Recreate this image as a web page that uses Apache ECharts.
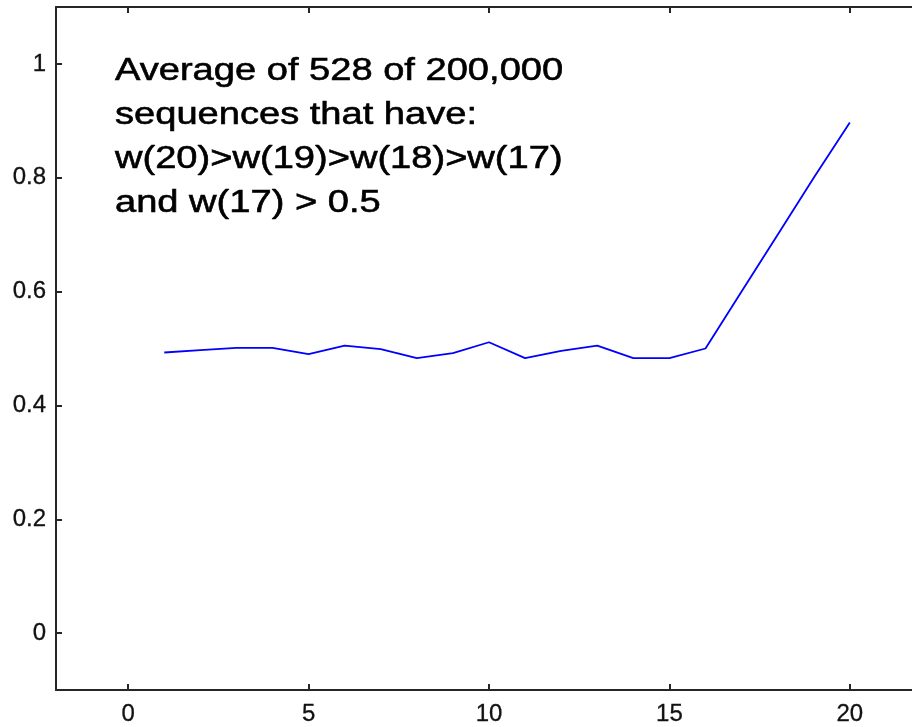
<!DOCTYPE html>
<html>
<head>
<meta charset="utf-8">
<script src="https://cdn.jsdelivr.net/npm/echarts@6/dist/echarts.min.js"></script>
<style>
html,body{margin:0;padding:0;background:#fff;}
#chart{width:912px;height:727px;}
</style>
</head>
<body>
<div id="chart"></div>
<script>
const xValues = [1,2,3,4,5,6,7,8,9,10,11,12,13,14,15,16,17,18,19,20];
const yValues = [0.493,0.497,0.501,0.501,0.490,0.505,0.499,0.483,0.492,0.511,0.483,0.496,0.505,0.483,0.483,0.500,0.600,0.700,0.800,0.897];
const xTicks = [0,5,10,15,20];
const yTicks = [0,0.2,0.4,0.6,0.8,1];
const annotationLines = [
  'Average of 528 of 200,000',
  'sequences that have:',
  'w(20)>w(19)>w(18)>w(17)',
  'and w(17) > 0.5'
];

const chart = echarts.init(document.getElementById('chart'));
const axisCol = '#262626';
const labelFont = {
  fontFamily: 'Liberation Sans, Arial, sans-serif', fontSize: 24, color: '#111',
  textBorderColor: '#111', textBorderWidth: 0.3
};
const option = {
  animation: false,
  backgroundColor: '#fff',
  grid: { left: 56, top: 7, width: 866, height: 683, outerBoundsMode: 'none', containLabel: false },
  xAxis: [{
    type: 'value', min: -2, max: 22, position: 'bottom',
    axisLine: { show: true, onZero: false, lineStyle: { color: axisCol, width: 2 } },
    axisTick: { show: true, inside: true, length: 6, customValues: xTicks, lineStyle: { color: axisCol, width: 2 } },
    axisLabel: Object.assign({ margin: 12, customValues: xTicks, formatter: v => String(v) }, labelFont),
    splitLine: { show: false }
  }, {
    type: 'value', min: -2, max: 22, position: 'top',
    axisLine: { show: true, onZero: false, lineStyle: { color: axisCol, width: 2 } },
    axisTick: { show: true, inside: true, length: 6, customValues: xTicks, lineStyle: { color: axisCol, width: 2 } },
    axisLabel: { show: false },
    splitLine: { show: false }
  }],
  yAxis: [{
    type: 'value', min: -0.1, max: 1.1, position: 'left',
    axisLine: { show: true, onZero: false, lineStyle: { color: axisCol, width: 2 } },
    axisTick: { show: true, inside: true, length: 6, customValues: yTicks, lineStyle: { color: axisCol, width: 2 } },
    axisLabel: Object.assign({ margin: 10, customValues: yTicks, formatter: v => String(v) }, labelFont),
    splitLine: { show: false }
  }],
  series: [{
    type: 'line',
    data: xValues.map((x, i) => [x, yValues[i]]),
    symbol: 'none',
    lineStyle: { color: '#0000ff', width: 1.8 },
    itemStyle: { color: '#0000ff' }
  }],
  graphic: [{
    type: 'text',
    x: 115, y: 49,
    scaleX: 1.19,
    style: {
      text: annotationLines.join('\n'),
      fontFamily: 'Liberation Sans, Arial, sans-serif',
      fontSize: 32,
      lineHeight: 44,
      fill: '#000',
      stroke: '#000',
      lineWidth: 0.6,
      verticalAlign: 'top'
    }
  }]
};
chart.setOption(option);
</script>
</body>
</html>
